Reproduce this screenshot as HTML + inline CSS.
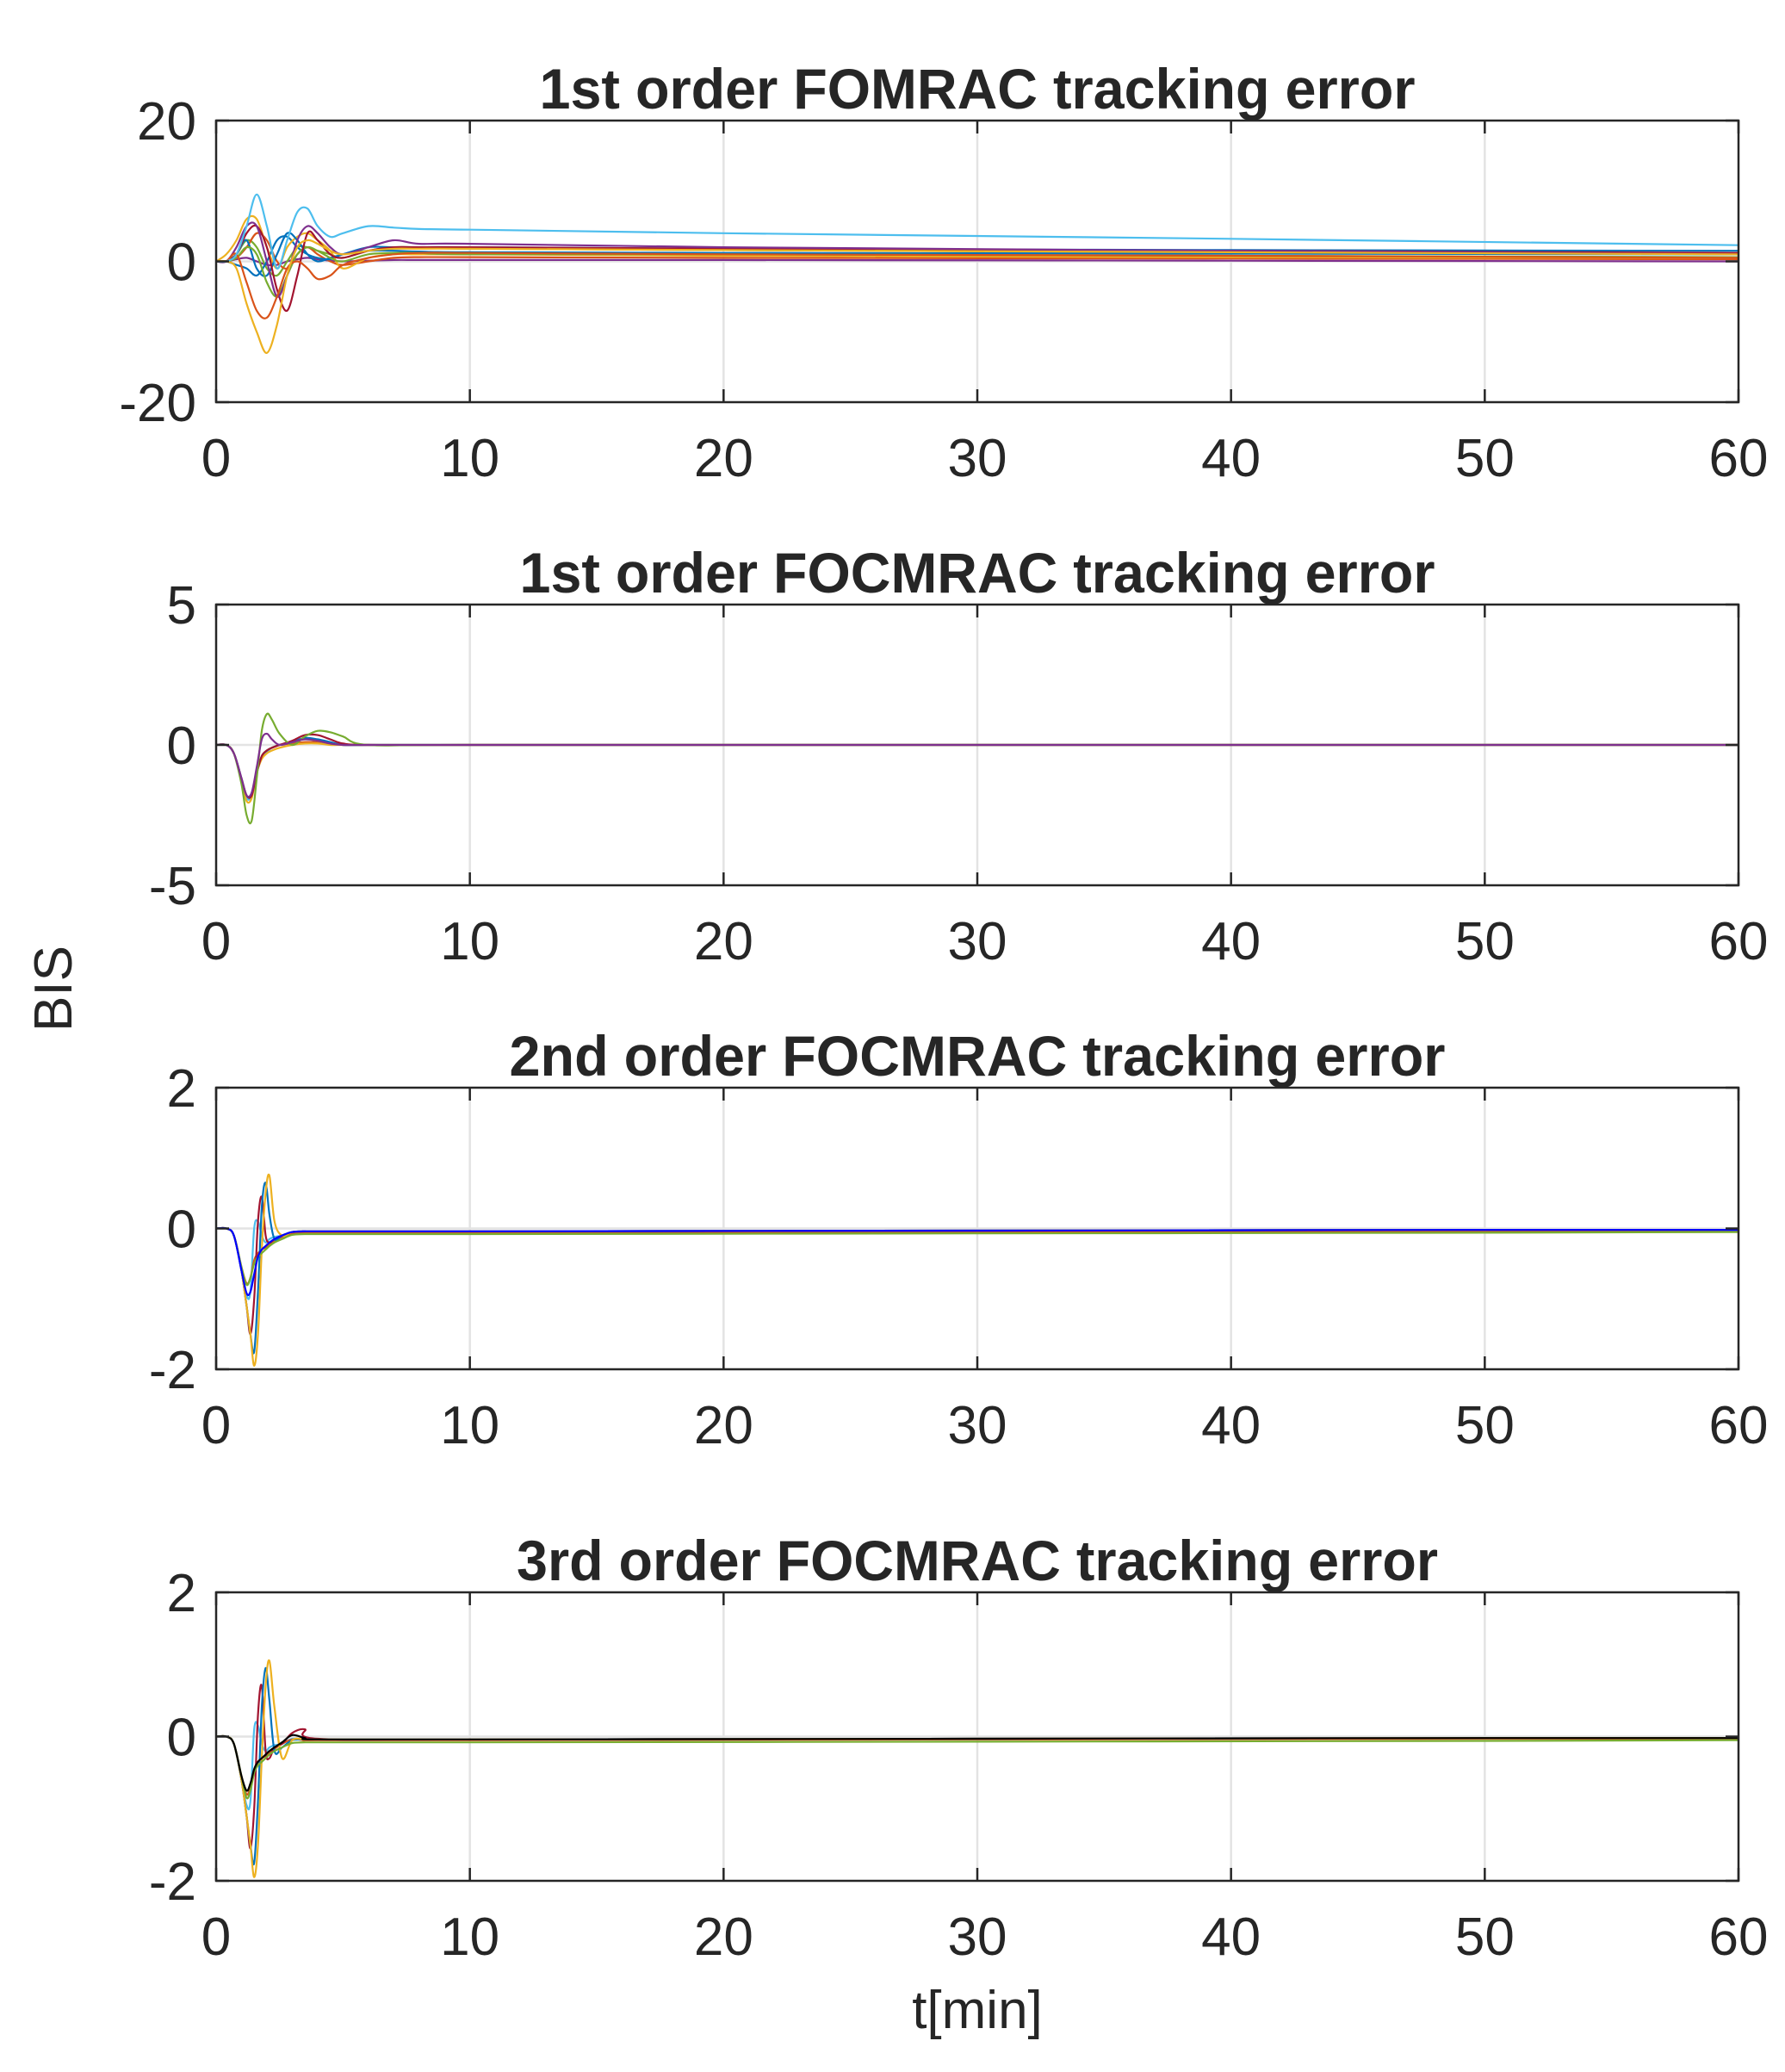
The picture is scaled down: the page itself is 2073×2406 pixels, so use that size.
<!DOCTYPE html>
<html>
<head>
<meta charset="utf-8">
<style>
  html,body{margin:0;padding:0;background:#fff;}
  svg{display:block;}
  text{font-family:"Liberation Sans",Arial,sans-serif;fill:#262626;}
</style>
</head>
<body>
<svg id="fig" width="2073" height="2406" viewBox="0 0 2073 2406" xmlns="http://www.w3.org/2000/svg">
  <rect x="0" y="0" width="2073" height="2406" fill="#fff"/>
  <text x="83" y="1148" font-size="62" text-anchor="middle" transform="rotate(-90 83 1148)">BIS</text>
  <text x="1135" y="2355" font-size="62" text-anchor="middle">t[min]</text>
</svg>
<script>
// ---------- shared data ----------
const xTicks = [0, 10, 20, 30, 40, 50, 60];
const xTickLabels = ["0", "10", "20", "30", "40", "50", "60"];
const titles = [
  "1st order FOMRAC tracking error",
  "1st order FOCMRAC tracking error",
  "2nd order FOCMRAC tracking error",
  "3rd order FOCMRAC tracking error"
];
const yTicks1 = [-20, 0, 20];
const yTicks2 = [-5, 0, 5];
const yTicks3 = [-2, 0, 2];
const yTicks4 = [-2, 0, 2];

// ---------- panel 1 data (time in min) ----------
const t1 = [0,0.4,0.8,1.2,1.6,2,2.4,2.8,3.2,3.6,4,4.5,5,6,7,8,10,20,40,60];
const p1Cyan    = [0,0,1,5,9.5,5,-1,3,7,7.5,5,3.5,4,5,4.8,4.6,4.5,4,3.2,2.3];
const p1Yellow  = [0,0,-1,-6,-10,-13,-9,-2,2,3,2.5,1.5,1,1.5,1.8,1.8,1.8,1.6,1.3,1];
const p1Orange  = [0,0,1,-3,-7,-8,-5,-1,0,-1,-2.5,-2,-0.5,0.5,1,1.2,1.2,1,0.8,0.5];
const p1Purple  = [0,0,2,5,5,0,-5,-2,3,5,4,2,1,2,3,2.5,2.5,2,1.5,1];
const p1Red     = [0,0,1,4,5,2,-4,-7,-2,4,3,1,0.5,1.5,2,2,2,1.8,1.5,1.2];
const p1Green   = [0,0,0.5,2,1,-3,-5,-2,1,2,1.5,0.5,0,1,1.2,1.2,1,1,0.8,0.6];
const p1Blue    = [0,0,1,3,-1,-2,1,4,3,1,0,0.5,1,2,2,2,2,1.8,1.6,1.5];
const p1Yellow2 = [0,1,3,6,6,2,-1,2,3.5,4,3,1.5,-1,0.5,1,1,1,0.8,0.6,0.5];
const p1Blue2   = [0,0,-0.5,-1,-2,0,3,3.5,2,1,0.5,0.3,1,1.5,1.5,1.4,1.3,1.2,1.1,1];
const p1Orange2 = [0,0,0.5,2,4,3,0,-1,1,2,1,0,-0.5,0,0.5,0.6,0.6,0.5,0.4,0.3];
const p1Purple2 = [0,0,0.3,0.5,0,-0.5,-0.5,0,0.3,0.5,0.3,0.1,0,0.1,0.2,0.2,0.2,0.2,0.1,0];
const p1Green2  = [0,0,1,3,2,-1,-2,0,2,2,1.5,1,0.5,1.5,2,2,1.8,1.6,1.3,1];

// ---------- panel 2 data ----------
const t2 = [0,0.4,0.7,1,1.2,1.4,1.6,1.8,2,2.2,2.5,3,3.5,4,4.5,5,6,10,30,60];
const p2Purple = [0,0,-0.3,-1.2,-1.8,-1.7,-0.8,0.2,0.4,0.2,0,0.1,0.2,0.15,0.05,0,0,0,0,0];
const p2Green  = [0,0,-0.3,-1.4,-2.5,-2.7,-1.2,0.5,1.1,0.9,0.4,0,0.3,0.5,0.45,0.3,0,0,0,0];
const p2Yellow = [0,0,-0.3,-1.3,-2,-1.9,-1,-0.5,-0.3,-0.2,-0.1,0,0.05,0.05,0,0,0,0,0,0];
const p2Red    = [0,0,-0.3,-1.2,-1.8,-1.8,-1,-0.4,-0.2,-0.1,0,0.15,0.35,0.35,0.2,0.05,0,0,0,0];
const p2Blue   = [0,0,-0.3,-1.2,-1.8,-1.8,-1,-0.4,-0.2,-0.1,0,0.1,0.25,0.2,0.1,0,0,0,0,0];
const p2Cyan   = [0,0,-0.3,-1.2,-1.9,-1.8,-1,-0.45,-0.25,-0.1,0,0.1,0.2,0.15,0.05,0,0,0,0,0];
const p2Orange = [0,0,-0.3,-1.2,-1.8,-1.8,-1,-0.4,-0.2,-0.1,0,0.05,0.1,0.1,0.05,0,0,0,0,0];

// ---------- panel 3 data ----------
const t3 = [0,0.4,0.7,1,1.2,1.35,1.5,1.65,1.8,1.95,2.1,2.3,2.6,3,3.5,4,10,30,50,60];
const p3Blue0  = [0,0,-0.1,-0.6,-0.92,-0.9,-0.65,-0.4,-0.3,-0.25,-0.2,-0.15,-0.1,-0.05,-0.04,-0.04,-0.04,-0.03,-0.02,-0.02];
const p3Red    = [0,0,-0.1,-0.6,-1.1,-1.5,-1.0,0.1,0.45,-0.1,-0.2,-0.15,-0.1,-0.05,-0.04,-0.04,-0.04,-0.03,-0.02,-0.02];
const p3Blue   = [0,0,-0.1,-0.6,-1.1,-1.5,-1.75,-0.9,0.3,0.65,0.2,-0.15,-0.1,-0.05,-0.04,-0.04,-0.04,-0.03,-0.02,-0.02];
const p3Yellow = [0,0,-0.1,-0.6,-1.1,-1.5,-1.95,-1.5,-0.3,0.5,0.75,0.1,-0.1,-0.05,-0.04,-0.04,-0.04,-0.03,-0.02,-0.02];
const p3Green  = [0,0,-0.1,-0.55,-0.8,-0.7,-0.5,-0.4,-0.35,-0.3,-0.25,-0.2,-0.15,-0.09,-0.08,-0.08,-0.08,-0.07,-0.06,-0.05];
const p3Orange = [0,0,-0.1,-0.55,-0.78,-0.7,-0.45,-0.35,-0.3,-0.27,-0.22,-0.17,-0.12,-0.07,-0.06,-0.06,-0.06,-0.05,-0.04,-0.03];
const p3Cyan   = [0,0,-0.1,-0.6,-0.95,-0.9,0,0.1,-0.1,-0.2,-0.15,-0.12,-0.1,-0.05,-0.04,-0.04,-0.04,-0.03,-0.02,-0.02];

// ---------- panel 4 data ----------
const t4 = [0,0.4,0.7,1,1.2,1.35,1.5,1.65,1.8,1.95,2.1,2.3,2.6,3,3.5,4,10,30,50,60];
const p4Black  = [0,0,-0.1,-0.55,-0.75,-0.65,-0.45,-0.35,-0.3,-0.25,-0.2,-0.15,-0.08,0.02,-0.02,-0.04,-0.04,-0.03,-0.02,-0.02];
const p4Red    = [0,0,-0.1,-0.6,-1.1,-1.55,-1.0,0.3,0.7,-0.2,-0.3,-0.15,-0.1,0.05,0.1,-0.03,-0.04,-0.03,-0.02,-0.02];
const p4Blue   = [0,0,-0.1,-0.6,-1.1,-1.5,-1.75,-0.9,0.4,0.95,0.5,-0.2,-0.15,-0.05,-0.04,-0.04,-0.04,-0.03,-0.02,-0.02];
const p4Yellow = [0,0,-0.1,-0.6,-1.1,-1.5,-1.95,-1.5,-0.3,0.7,1.05,0.4,-0.3,-0.05,-0.04,-0.04,-0.04,-0.03,-0.02,-0.02];
const p4Green  = [0,0,-0.1,-0.55,-0.85,-0.75,-0.5,-0.4,-0.35,-0.3,-0.25,-0.2,-0.15,-0.09,-0.08,-0.08,-0.08,-0.07,-0.06,-0.05];
const p4Cyan   = [0,0,-0.1,-0.6,-0.95,-0.9,0.1,0.15,-0.1,-0.2,-0.15,-0.12,-0.1,-0.03,-0.04,-0.04,-0.04,-0.03,-0.02,-0.02];
const p4Orange = [0,0,-0.1,-0.55,-0.8,-0.7,-0.45,-0.35,-0.3,-0.27,-0.22,-0.17,-0.1,-0.04,-0.05,-0.05,-0.05,-0.04,-0.03,-0.03];

// ---------- layout ----------
const C = {blue:"#0072BD", orange:"#D95319", yellow:"#EDB120", purple:"#7E2F8E", green:"#77AC30", cyan:"#4DBEEE", red:"#A2142F", pure:"#0000FF", black:"#000000"};
const panels = [
  {top:140,  bottom:467,  ymin:-20, ymax:20, yt:yTicks1, t:t1, tw:1017,
   series:[[p1Purple2,C.purple],[p1Green2,C.green],[p1Orange2,C.orange],[p1Blue2,C.blue],[p1Yellow2,C.yellow],[p1Blue,C.blue],[p1Green,C.green],[p1Red,C.red],[p1Purple,C.purple],[p1Orange,C.orange],[p1Yellow,C.yellow],[p1Cyan,C.cyan]]},
  {top:702,  bottom:1028, ymin:-5, ymax:5, yt:yTicks2, t:t2, tw:1063,
   series:[[p2Orange,C.orange],[p2Cyan,C.cyan],[p2Blue,C.blue],[p2Yellow,C.yellow],[p2Red,C.red],[p2Green,C.green],[p2Purple,C.purple]]},
  {top:1263, bottom:1590, ymin:-2, ymax:2, yt:yTicks3, t:t3, tw:1087,
   series:[[p3Cyan,C.cyan],[p3Orange,C.orange],[p3Red,C.red],[p3Blue,C.blue],[p3Yellow,C.yellow],[p3Green,C.green],[p3Blue0,C.pure]]},
  {top:1849, bottom:2184, ymin:-2, ymax:2, yt:yTicks4, t:t4, tw:1070,
   series:[[p4Cyan,C.cyan],[p4Orange,C.orange],[p4Red,C.red],[p4Blue,C.blue],[p4Yellow,C.yellow],[p4Green,C.green],[p4Black,C.black]]}
];
const L = 251, R = 2019, XMAX = 60;
const NS = "http://www.w3.org/2000/svg";
const svg = document.getElementById("fig");
function mk(tag, attrs, parent){
  const e = document.createElementNS(NS, tag);
  for (const k in attrs) e.setAttribute(k, attrs[k]);
  (parent||svg).appendChild(e);
  return e;
}
const xScale = v => L + (v/XMAX)*(R-L);

function smoothPath(pts){
  let d = "M" + pts[0][0].toFixed(1) + "," + pts[0][1].toFixed(1);
  for (let i=0;i<pts.length-1;i++){
    const p0 = pts[Math.max(0,i-1)], p1 = pts[i], p2 = pts[i+1], p3 = pts[Math.min(pts.length-1,i+2)];
    const c1x = p1[0] + (p2[0]-p0[0])/6, c1y = p1[1] + (p2[1]-p0[1])/6;
    const c2x = p2[0] - (p3[0]-p1[0])/6, c2y = p2[1] - (p3[1]-p1[1])/6;
    d += " C" + c1x.toFixed(1)+","+c1y.toFixed(1)+" "+c2x.toFixed(1)+","+c2y.toFixed(1)+" "+p2[0].toFixed(1)+","+p2[1].toFixed(1);
  }
  return d;
}

panels.forEach((P, pi) => {
  const yScale = v => P.bottom - (v - P.ymin)/(P.ymax - P.ymin)*(P.bottom - P.top);
  const g = mk("g", {});
  
  
  // grid
  xTicks.forEach(v => {
    if (v === 0 || v === XMAX) return;
    const gl = mk("line", {x1:xScale(v), x2:xScale(v), y1:P.top, y2:P.bottom, stroke:"#e3e3e3", "stroke-width":2.5}, g);
    
    
  });
  P.yt.forEach(v => {
    if (v === P.ymin || v === P.ymax) return;
    const gl = mk("line", {x1:L, x2:R, y1:yScale(v), y2:yScale(v), stroke:"#e3e3e3", "stroke-width":2.5}, g);
    
    
  });
  // series
  const clipId = "clip" + pi;
  const cp = mk("clipPath", {id:clipId}, g);
  mk("rect", {x:L, y:P.top, width:R-L, height:P.bottom-P.top}, cp);
  const sg = mk("g", {"clip-path":"url(#"+clipId+")"}, g);
  P.series.forEach((s, si) => {
    const pts = P.t.map((tv, i) => [xScale(tv), yScale(s[0][i])]);
    const path = mk("path", {d:smoothPath(pts), fill:"none", stroke:s[1], "stroke-width":2.2, "stroke-linejoin":"round"}, sg);
    
    
  });
  // ticks
  xTicks.forEach(v => {
    mk("line", {x1:xScale(v), x2:xScale(v), y1:P.bottom, y2:P.bottom-15, stroke:"#262626", "stroke-width":2.5}, g);
    mk("line", {x1:xScale(v), x2:xScale(v), y1:P.top, y2:P.top+15, stroke:"#262626", "stroke-width":2.5}, g);
  });
  P.yt.forEach(v => {
    mk("line", {x1:L, x2:L+15, y1:yScale(v), y2:yScale(v), stroke:"#262626", "stroke-width":2.5}, g);
    mk("line", {x1:R, x2:R-15, y1:yScale(v), y2:yScale(v), stroke:"#262626", "stroke-width":2.5}, g);
  });
  // box
  const box = mk("rect", {x:L, y:P.top, width:R-L, height:P.bottom-P.top, fill:"none", stroke:"#262626", "stroke-width":2.5}, g);
  
  
  // tick labels
  xTicks.forEach((v, i) => {
    const t = mk("text", {x:xScale(v), y:P.bottom+86, "font-size":62, "text-anchor":"middle"}, g);
    t.textContent = xTickLabels[i];
    
    
  });
  P.yt.forEach(v => {
    const t = mk("text", {x:L-23, y:yScale(v)+22, "font-size":62, "text-anchor":"end"}, g);
    t.textContent = String(v);
    
    
  });
  // title
  const tt = mk("text", {x:(L+R)/2, y:P.top-14, "font-size":66, "font-weight":"bold", "text-anchor":"middle", textLength:P.tw, lengthAdjust:"spacingAndGlyphs", fill:"#000"}, g);
  tt.textContent = titles[pi];
  
  
});
</script>
</body>
</html>
